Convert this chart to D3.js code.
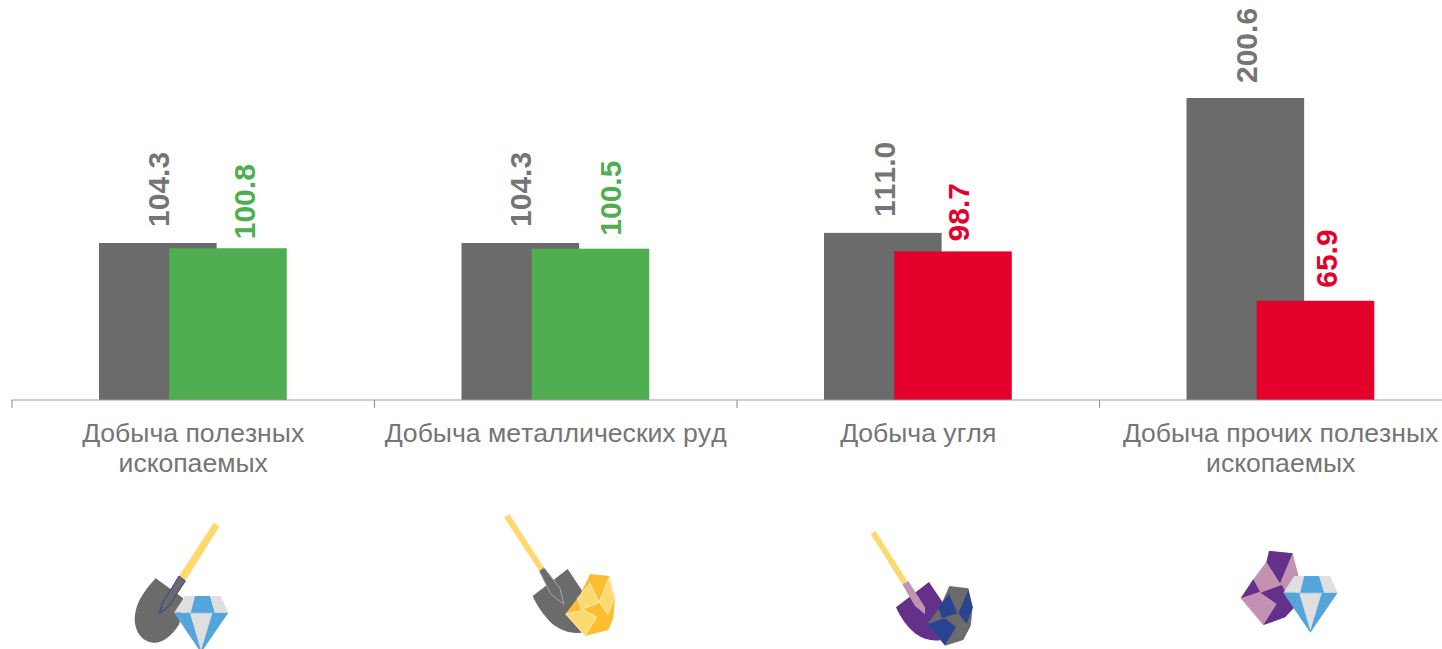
<!DOCTYPE html>
<html>
<head>
<meta charset="utf-8">
<script src="https://cdn.jsdelivr.net/npm/d3@7"></script>
<style>
  html, body { margin: 0; background: #fff; overflow: hidden; }
  text { font-family: "Liberation Sans", Arial, sans-serif; font-kerning: none; }
</style>
</head>
<body>
<div id="chart"></div>
<script>
// values
const categories = ["Добыча полезных ископаемых", "Добыча металлических руд", "Добыча угля", "Добыча прочих полезных ископаемых"];
const categoryLines = [["Добыча полезных", "ископаемых"], ["Добыча металлических руд"], ["Добыча угля"], ["Добыча прочих полезных", "ископаемых"]];
const baseValues = [104.3, 104.3, 111.0, 200.6];
const currentValues = [100.8, 100.5, 98.7, 65.9];
const currentColors = ["#4fae50", "#4fae50", "#e4002b", "#e4002b"];

const width = 1442, height = 649;
const baseline = 400;
const grey = "#6b6b6b", labelGrey = "#757575";

// the value labels were nudged by hand in the original, not centred on the bars
const baseNudge = [{ dx: 1, gap: 16 }, { dx: 0.5, gap: 16 }, { dx: 1.5, gap: 16 }, { dx: 1, gap: 15 }];
const currentNudge = [{ dx: 17, gap: 9 }, { dx: 20, gap: 13 }, { dx: 5.5, gap: 10 }, { dx: 11.5, gap: 13 }];

const svg = d3.select("#chart").append("svg")
    .attr("width", width)
    .attr("height", height)
    .style("display", "block");

const x = d3.scaleBand().domain(d3.range(categories.length)).range([12, 1462]).padding(0);
// a bit wider than the window, the last tick falls off the page
const y = d3.scaleLinear().domain([0, 200.6]).range([baseline, 98]);

// the two bars of a group overlap, so offsets are fractions of the band
const barW = x.bandwidth() * 0.3245;
const greyX = i => x(i) + x.bandwidth() * 0.24;
const currX = i => x(i) + x.bandwidth() * 0.4335;

svg.selectAll("rect.base")
    .data(baseValues)
    .join("rect")
    .attr("class", "base")
    .attr("x", (d, i) => greyX(i))
    .attr("y", d => y(d))
    .attr("width", barW)
    .attr("height", d => baseline - y(d))
    .attr("fill", grey);

svg.selectAll("rect.current")
    .data(currentValues)
    .join("rect")
    .attr("class", "current")
    .attr("x", (d, i) => currX(i))
    .attr("y", d => y(d))
    .attr("width", barW)
    .attr("height", d => baseline - y(d))
    .attr("fill", (d, i) => currentColors[i]);

// axis line and ticks at the band edges
const edge = d3.scaleLinear().domain([0, categories.length]).range(x.range());
const axis = svg.append("g")
    .attr("transform", `translate(0,${baseline})`)
    .call(d3.axisBottom(edge).offset(0).tickValues(d3.range(categories.length)).tickSizeInner(8).tickSizeOuter(0).tickFormat(""));
axis.selectAll("path, line").attr("stroke", "#9a9a9a").attr("stroke-width", 1.2);

// rotated value labels
function valueLabels(values, barX, nudge, color, cls) {
    svg.selectAll("text." + cls)
        .data(values)
        .join("text")
        .attr("class", cls)
        .attr("transform", (d, i) => `translate(${barX(i) + barW / 2 + 10.5 + nudge[i].dx},${y(d) - nudge[i].gap}) rotate(-90)`)
        .attr("font-size", 30)
        .attr("font-weight", "bold")
        .attr("fill", color)
        .text(d => d.toFixed(1));
}
valueLabels(baseValues, greyX, baseNudge, labelGrey, "lb");
valueLabels(currentValues, currX, currentNudge, (d, i) => currentColors[i], "lc");

// category names
categoryLines.forEach((lines, i) => {
    svg.append("text")
        .attr("text-anchor", "middle")
        .attr("font-size", 26.6)
        .attr("fill", labelGrey)
        .selectAll("tspan")
        .data(lines)
        .join("tspan")
        .attr("x", x(i) + x.bandwidth() / 2)
        .attr("y", (d, j) => 442 + j * 30)
        .text(d => d);
});

// icons, drawn in zoomed crop coordinates (3x)
function icon(ox, oy) {
    const g = svg.append("g").attr("transform", `translate(${ox},${oy}) scale(${1 / 3})`);
    g.poly = (pts, fill, stroke, sw) => g.append("polygon")
        .attr("points", pts)
        .attr("fill", fill)
        .attr("stroke", stroke || "none")
        .attr("stroke-width", sw || 0)
        .attr("stroke-linejoin", "round");
    g.blade = (d, fill) => g.append("path").attr("d", d).attr("fill", fill);
    return g;
}
function diamond(g) {
    const ltGrey = "#dfdfdf", blue = "#54a5dc";
    g.poly("255,288 285,288 272,338 222,338", ltGrey);
    g.poly("285,288 330,288 345,338 272,338", blue);
    g.poly("330,288 362,288 385,338 345,338", ltGrey);
    g.poly("222,338 385,338 303,458", blue);
    g.poly("270,340 337,340 303,452", ltGrey);
}

const yellow = "#fdd96f", amber = "#fdbd2f", purple = "#65308a", pink = "#c391b2", navy = "#2a4390";

const ic1 = icon(100, 500);
ic1.blade("M167,235 L250,295 L238,372 C215,410 185,430 160,428 C115,425 100,375 105,345 C110,300 140,265 167,235Z", "#6b6b6b");
ic1.poly("342,67 358,80 256,243 237,228", yellow);
ic1.poly("237,228 256,243 205,320 178,342 187,310", "#6b6b6b", navy, 3);
diamond(ic1);

const ic2 = icon(480, 500);
ic2.blade("M158,288 L263,207 L305,270 L320,395 C280,405 245,395 215,370 C190,345 170,315 158,288Z", "#6b6b6b");
ic2.poly("73,53 88,42 192,203 178,213", yellow);
ic2.poly("178,213 192,203 240,265 252,313 212,282", "#6b6b6b", "#a8a8a8", 3);
ic2.poly("330,222 388,228 405,295 400,355 385,390 315,408 256,342 300,285", amber);
ic2.poly("330,250 357,308 305,328 292,295", yellow, "#fff", 2);
ic2.poly("388,232 403,295 383,343 358,305", yellow, "#fff", 2);
ic2.poly("257,342 312,330 350,352 315,407", yellow, "#fff", 2);

const ic3 = icon(850, 520);
ic3.blade("M138,262 L237,186 L280,250 L290,355 C260,368 225,362 195,340 C170,320 150,290 138,262Z", purple);
ic3.poly("62,42 77,33 172,183 157,193", yellow);
ic3.poly("157,193 175,183 225,262 225,283 195,258", pink);
ic3.poly("298,198 355,205 368,262 362,318 340,360 285,377 232,312 270,262", "#6b6b6b");
ic3.poly("297,222 322,280 275,295 265,262", navy);
ic3.poly("355,210 368,262 350,312 325,280", navy);
ic3.poly("232,312 285,295 318,322 285,375", navy);

const ic4 = icon(1220, 530);
ic4.poly("147,63 218,70 235,135 220,235 195,262 130,285 62,205 100,148 138,97", pink);
ic4.poly("147,63 218,70 180,160 140,97", purple);
ic4.poly("100,148 120,185 62,205", purple);
ic4.poly("122,188 185,165 225,230 195,262 130,285 170,222", purple);
// same diamond as the first icon, just moved
diamond(icon(1209.3, 480));
</script>
</body>
</html>
